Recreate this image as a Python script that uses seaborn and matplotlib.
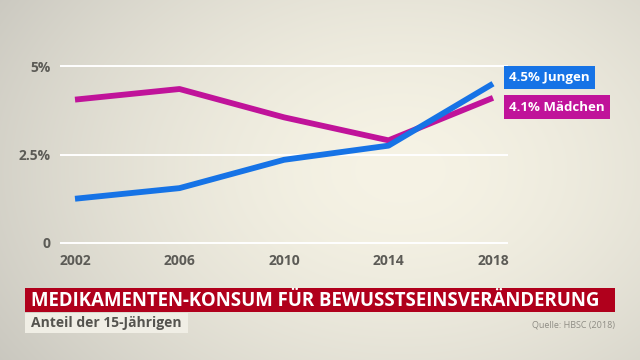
import numpy as np
import pandas as pd
import seaborn as sns
import matplotlib.pyplot as plt

# values (percent of 15-year-olds)
years = [2002, 2006, 2010, 2014, 2018]
jungen = [1.25, 1.55, 2.35, 2.75, 4.5]
maedchen = [4.05, 4.35, 3.55, 2.9, 4.1]
y_ticks = [0, 2.5, 5]
y_ticklabels = ["0", "2.5%", "5%"]

title = "MEDIKAMENTEN-KONSUM FÜR BEWUSSTSEINSVERÄNDERUNG"
subtitle = "Anteil der 15-Jährigen"
source = "Quelle: HBSC (2018)"

df = pd.DataFrame({
    "Jahr": years * 2,
    "Anteil": jungen + maedchen,
    "Gruppe": ["Jungen"] * len(years) + ["Mädchen"] * len(years),
})

sns.set_theme(style="white")
plt.rcParams["font.family"] = ["Open Sans", "DejaVu Sans"]

blue = "#1673e6"
magenta = "#c0139a"
palette = {"Jungen": blue, "Mädchen": magenta}
tick_col = "#5c5b56"

fig = plt.figure(figsize=(6.4, 3.6), dpi=100)

# beige background with soft vignette
bg = fig.add_axes([0, 0, 1, 1], zorder=0)
yy, xx = np.mgrid[0:360, 0:640]
r = np.sqrt(((xx - 400) / 420.0) ** 2 + ((yy - 170) / 300.0) ** 2)
r = np.clip(r, 0, 1.2)
c_in = np.array([246, 243, 229]) / 255.0
c_out = np.array([198, 196, 188]) / 255.0
t = (r / 1.2)[..., None] ** 1.6
img = c_in * (1 - t) + c_out * t
bg.imshow(img, aspect="auto", extent=[0, 1, 0, 1])
bg.set_axis_off()

ax = fig.add_axes([60 / 640, 1 - 243 / 360, 448 / 640, (243 - 66) / 360], zorder=1)
ax.patch.set_alpha(0)

for y in y_ticks:
    ax.axhline(y, color="white", lw=1.4, zorder=1)

sns.lineplot(data=df, x="Jahr", y="Anteil", hue="Gruppe", palette=palette,
             hue_order=["Mädchen", "Jungen"], lw=4.2, ax=ax, legend=False,
             zorder=3)
for line in ax.lines:
    line.set_clip_on(False)
    line.set_solid_capstyle("butt")

ax.set_xlim(2002 - 15 / 26.125, 2018 + 15 / 26.125)
ax.set_ylim(0, 5)
ax.set_xticks(years)
ax.set_xticklabels([str(y) for y in years], fontsize=10, fontweight="bold", color=tick_col)
ax.set_yticks(y_ticks)
ax.set_yticklabels(y_ticklabels, fontsize=10, fontweight="bold", color=tick_col)
ax.tick_params(axis="y", length=0, pad=7)
ax.tick_params(axis="x", length=0, pad=8)
ax.set_xlabel("")
ax.set_ylabel("")
sns.despine(ax=ax, left=True, bottom=True)

# end labels
fig.text(509 / 640, 1 - 77.5 / 360, f"{jungen[-1]:.1f}% Jungen", fontsize=9.5,
         fontweight="bold", color="white", va="center", ha="left",
         bbox=dict(boxstyle="square,pad=0.4", fc=blue, ec="none"))
fig.text(509 / 640, 1 - 107 / 360, f"{maedchen[-1]:.1f}% Mädchen", fontsize=9.5,
         fontweight="bold", color="white", va="center", ha="left",
         bbox=dict(boxstyle="square,pad=0.4", fc=magenta, ec="none"))

# title banner
fig.patches.append(plt.Rectangle((25 / 640, 1 - 312 / 360), 590 / 640, 24 / 360,
                                 transform=fig.transFigure, fc="#b0001c", ec="none"))
fig.text(31 / 640, 1 - 300.5 / 360, title, fontsize=13.4, fontweight="bold",
         color="white", va="center", ha="left")
fig.patches.append(plt.Rectangle((25 / 640, 1 - 333 / 360), 163 / 640, 20 / 360,
                                 transform=fig.transFigure, fc="#f0eee5", ec="none"))
fig.text(31 / 640, 1 - 323 / 360, subtitle, fontsize=10, fontweight="bold",
         color="#55544f", va="center", ha="left")
fig.text(615 / 640, 1 - 325 / 360, source, fontsize=6.5, color="#8f8d85",
         va="center", ha="right")

fig.savefig("out.png", dpi=100)
